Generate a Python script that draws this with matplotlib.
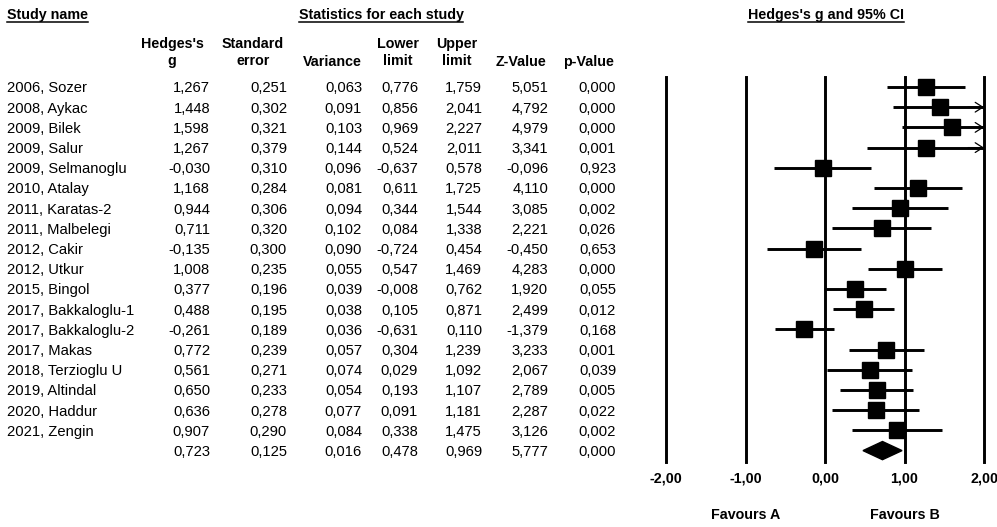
import matplotlib
matplotlib.use("Agg")
import matplotlib.pyplot as plt
import numpy as np
from matplotlib.lines import Line2D
from matplotlib.patches import Polygon
from matplotlib.transforms import IdentityTransform

plt.rcParams["font.family"] = ["Liberation Sans", "DejaVu Sans"]

# data
studies = ["2006, Sozer", "2008, Aykac", "2009, Bilek", "2009, Salur", "2009, Selmanoglu",
           "2010, Atalay", "2011, Karatas-2", "2011, Malbelegi", "2012, Cakir", "2012, Utkur",
           "2015, Bingol", "2017, Bakkaloglu-1", "2017, Bakkaloglu-2", "2017, Makas",
           "2018, Terzioglu U", "2019, Altindal", "2020, Haddur", "2021, Zengin"]
g = [1.267, 1.448, 1.598, 1.267, -0.030, 1.168, 0.944, 0.711, -0.135, 1.008, 0.377, 0.488,
     -0.261, 0.772, 0.561, 0.650, 0.636, 0.907]
se = [0.251, 0.302, 0.321, 0.379, 0.310, 0.284, 0.306, 0.320, 0.300, 0.235, 0.196, 0.195,
      0.189, 0.239, 0.271, 0.233, 0.278, 0.290]
var = [0.063, 0.091, 0.103, 0.144, 0.096, 0.081, 0.094, 0.102, 0.090, 0.055, 0.039, 0.038,
       0.036, 0.057, 0.074, 0.054, 0.077, 0.084]
lower = [0.776, 0.856, 0.969, 0.524, -0.637, 0.611, 0.344, 0.084, -0.724, 0.547, -0.008, 0.105,
         -0.631, 0.304, 0.029, 0.193, 0.091, 0.338]
upper = [1.759, 2.041, 2.227, 2.011, 0.578, 1.725, 1.544, 1.338, 0.454, 1.469, 0.762, 0.871,
         0.110, 1.239, 1.092, 1.107, 1.181, 1.475]
zval = [5.051, 4.792, 4.979, 3.341, -0.096, 4.110, 3.085, 2.221, -0.450, 4.283, 1.920, 2.499,
        -1.379, 3.233, 2.067, 2.789, 2.287, 3.126]
pval = [0.000, 0.000, 0.000, 0.001, 0.923, 0.000, 0.002, 0.026, 0.653, 0.000, 0.055, 0.012,
        0.168, 0.001, 0.039, 0.005, 0.022, 0.002]
summary = [0.723, 0.125, 0.016, 0.478, 0.969, 5.777, 0.000]

xticks = [-2, -1, 0, 1, 2]
xtick_labels = ["-2,00", "-1,00", "0,00", "1,00", "2,00"]

W, H = 997, 527
fig = plt.figure(figsize=(W / 100, H / 100), dpi=100)

def fmt(v):
    return f"{v:.3f}".replace(".", ",")

# vertical geometry: rows 20.2 px apart, first row at y=87, lines from 77 to 462
top_px, bot_px = 77, 462
row0, pitch = 87, 20.2
n = len(studies)
ymin = (top_px - row0) / pitch
ymax = ymin + (bot_px - top_px) / pitch

ax = fig.add_axes([666 / W, 1 - bot_px / H, 318 / W, (bot_px - top_px) / H])
ax.set_xlim(-2, 2)
ax.set_ylim(ymax, ymin)
for s in ax.spines.values():
    s.set_visible(False)
ax.set_yticks([])
ax.set_xticks(xticks, xtick_labels, fontsize=10.3, fontweight="bold")
ax.tick_params(axis="x", length=0, pad=7)

for xv in xticks:
    ax.axvline(xv, color="black", lw=2.1, clip_on=False, zorder=1)

# weights for square size (random effects style)
tau2 = 0.21
w = 1 / (np.array(var) + tau2)
msize = 11.8 * (w / w.max()) ** 0.15

for i in range(n):
    hi = min(upper[i], 2)
    ax.plot([lower[i], hi], [i, i], color="black", lw=2.1, solid_capstyle="butt",
            clip_on=False, zorder=2)
    if upper[i] > 2:
        # CI runs off the scale: open arrow head at the edge
        ax.annotate("", xy=(2, i), xytext=(1.8, i),
                    arrowprops=dict(arrowstyle="->,head_length=0.55,head_width=0.35",
                                    lw=0.9, color="black", mutation_scale=10,
                                    shrinkA=0, shrinkB=0), zorder=4)
    ax.plot(g[i], i, marker="s", ms=msize[i], color="black", zorder=3, clip_on=False)

# summary diamond
dh = 0.45
ax.add_patch(Polygon([[summary[3], n], [summary[0], n - dh], [summary[4], n],
                      [summary[0], n + dh]], closed=True, color="black", zorder=3))

xt = ax.get_xaxis_transform()
fav_y = (bot_px - 515) / (bot_px - top_px)
ax.text(-1, fav_y, "Favours A", ha="center", va="center", fontsize=10.3,
        fontweight="bold", transform=xt)
ax.text(1, fav_y, "Favours B", ha="center", va="center", fontsize=10.3,
        fontweight="bold", transform=xt)

# table on the left, sharing the row scale
tab = fig.add_axes([0, 1 - bot_px / H, 650 / W, (bot_px - top_px) / H], sharey=ax)
tab.set_xlim(0, 650)
tab.axis("off")

cols = [g, se, var, lower, upper, zval, pval]
col_right = [210, 287, 362, 418, 482, 548, 616]
fs = 10.6
dy = 0.07  # nudge text down to sit on the marker rows
for i in range(n):
    tab.text(7, i + dy, studies[i], ha="left", va="center", fontsize=fs, clip_on=False)
    for c, xr in zip(cols, col_right):
        tab.text(xr, i + dy, fmt(c[i]), ha="right", va="center", fontsize=fs, clip_on=False)
for v, xr in zip(summary, col_right):
    tab.text(xr, n + dy, fmt(v), ha="right", va="center", fontsize=fs, clip_on=False)

def prow(ypx):
    return (ypx - row0) / pitch

hdr = [("Hedges's\ng", 172), ("Standard\nerror", 253), ("Variance", 332),
       ("Lower\nlimit", 398), ("Upper\nlimit", 457), ("Z-Value", 521), ("p-Value", 588)]
for label, xc in hdr:
    if "\n" in label:
        tab.text(xc, prow(52.5), label, ha="center", va="center", fontsize=10.3,
                 fontweight="bold", multialignment="center", linespacing=1.33, clip_on=False)
    else:
        tab.text(xc, prow(62), label, ha="center", va="center", fontsize=10.3,
                 fontweight="bold", clip_on=False)

titles = [
    tab.text(7, prow(15), "Study name", ha="left", va="center", fontsize=10.3,
             fontweight="bold", clip_on=False),
    tab.text(381, prow(15), "Statistics for each study", ha="center", va="center",
             fontsize=10.3, fontweight="bold", clip_on=False),
    ax.text(826, H - 15, "Hedges's g and 95% CI", ha="center", va="center", fontsize=10.3,
            fontweight="bold", transform=IdentityTransform()),
]

# underline the three group titles
fig.canvas.draw()
for t in titles:
    bb = t.get_window_extent()
    fig.add_artist(Line2D([bb.x0, bb.x1], [bb.y0 + 0.5, bb.y0 + 0.5], color="black",
                          lw=1.1, transform=IdentityTransform()))

fig.savefig("out.png", dpi=100)
